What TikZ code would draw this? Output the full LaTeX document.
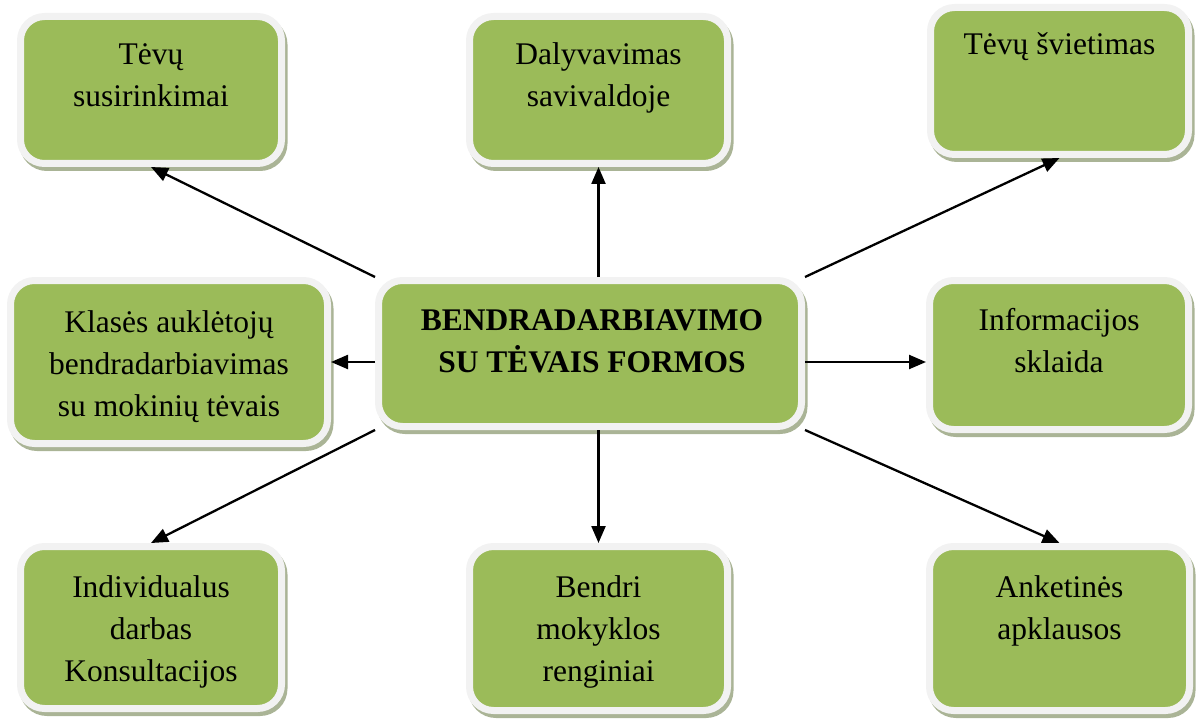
\documentclass[tikz,border=0pt]{standalone}
\usepackage{fontspec}
\setmainfont{Liberation Serif}
\usetikzlibrary{arrows.meta,shadows,calc}
\definecolor{boxgreen}{HTML}{9BBB59}
\definecolor{boxrim}{HTML}{F2F2F2}
\definecolor{boxshadow}{RGB}{170,180,150}
\tikzset{
 gbox/.style={draw=boxrim, line width=7pt, fill=boxgreen, rounded corners=24pt, inner sep=0pt,
   general shadow={shadow xshift=2.5pt, shadow yshift=-4pt, fill=boxshadow, draw=boxshadow, line width=7pt}},
 lbl/.style={anchor=base, inner sep=0pt, font=\fontsize{31.5}{42}\selectfont},
 conn/.style={line width=2.3pt, -{Triangle[length=17pt,width=14pt]}}
}
\begin{document}
\begin{tikzpicture}[x=1pt,y=-1pt]
\useasboundingbox (0,0) rectangle (1196,722);
% boxes
\node[gbox, minimum width=261pt, minimum height=147pt] (b1) at (151,90) {};
\node[gbox, minimum width=258pt, minimum height=147pt] (b2) at (598.5,90) {};
\node[gbox, minimum width=258pt, minimum height=147pt] (b3) at (1059.5,81) {};
\node[gbox, minimum width=317pt, minimum height=163pt] (b4) at (169,362) {};
\node[gbox, minimum width=423pt, minimum height=146pt] (c) at (590,353.5) {};
\node[gbox, minimum width=259pt, minimum height=149pt] (b6) at (1059,355) {};
\node[gbox, minimum width=261pt, minimum height=162pt] (b7) at (151,627.5) {};
\node[gbox, minimum width=258pt, minimum height=164pt] (b8) at (598.5,628.5) {};
\node[gbox, minimum width=260pt, minimum height=164pt] (b9) at (1059.5,628.5) {};
% texts
\node[lbl] (t1) at ($(b1.north)+(0,52)$) {\parbox[t]{320pt}{\centering Tėvų\\susirinkimai}};
\node[lbl] (t2) at ($(b2.north)+(0,52)$) {\parbox[t]{320pt}{\centering Dalyvavimas\\savivaldoje}};
\node[lbl] (t3) at ($(b3.north)+(0,51)$) {\parbox[t]{320pt}{\centering Tėvų švietimas}};
\node[lbl] (t4) at ($(b4.north)+(0,55)$) {\parbox[t]{320pt}{\centering Klasės auklėtojų\\bendradarbiavimas\\su mokinių tėvais}};
\node[lbl] (tc) at ($(c.north)+(2,53)$) {\parbox[t]{420pt}{\centering\bfseries BENDRADARBIAVIMO\\SU TĖVAIS FORMOS}};
\node[lbl] (t6) at ($(b6.north)+(0,53)$) {\parbox[t]{320pt}{\centering Informacijos\\sklaida}};
\node[lbl] (t7) at ($(b7.north)+(0,54)$) {\parbox[t]{320pt}{\centering Individualus\\darbas\\Konsultacijos}};
\node[lbl] (t8) at ($(b8.north)+(0,54)$) {\parbox[t]{320pt}{\centering Bendri\\mokyklos\\renginiai}};
\node[lbl] (t9) at ($(b9.north)+(0,54)$) {\parbox[t]{320pt}{\centering Anketinės\\apklausos}};
% connectors
\draw[conn] (c.north west) -- (b1.south);
\draw[conn] (c.north -| b2.south) -- (b2.south);
\draw[conn] (c.north east) -- (b3.south);
\draw[conn] (c.west |- b4.east) -- (b4.east);
\draw[conn] (c.east |- b4.east) -- (b6.west |- b4.east);
\draw[conn] (c.south west) -- (b7.north);
\draw[conn] (c.south -| b8.north) -- (b8.north);
\draw[conn] (c.south east) -- (b9.north);
\end{tikzpicture}
\end{document}
